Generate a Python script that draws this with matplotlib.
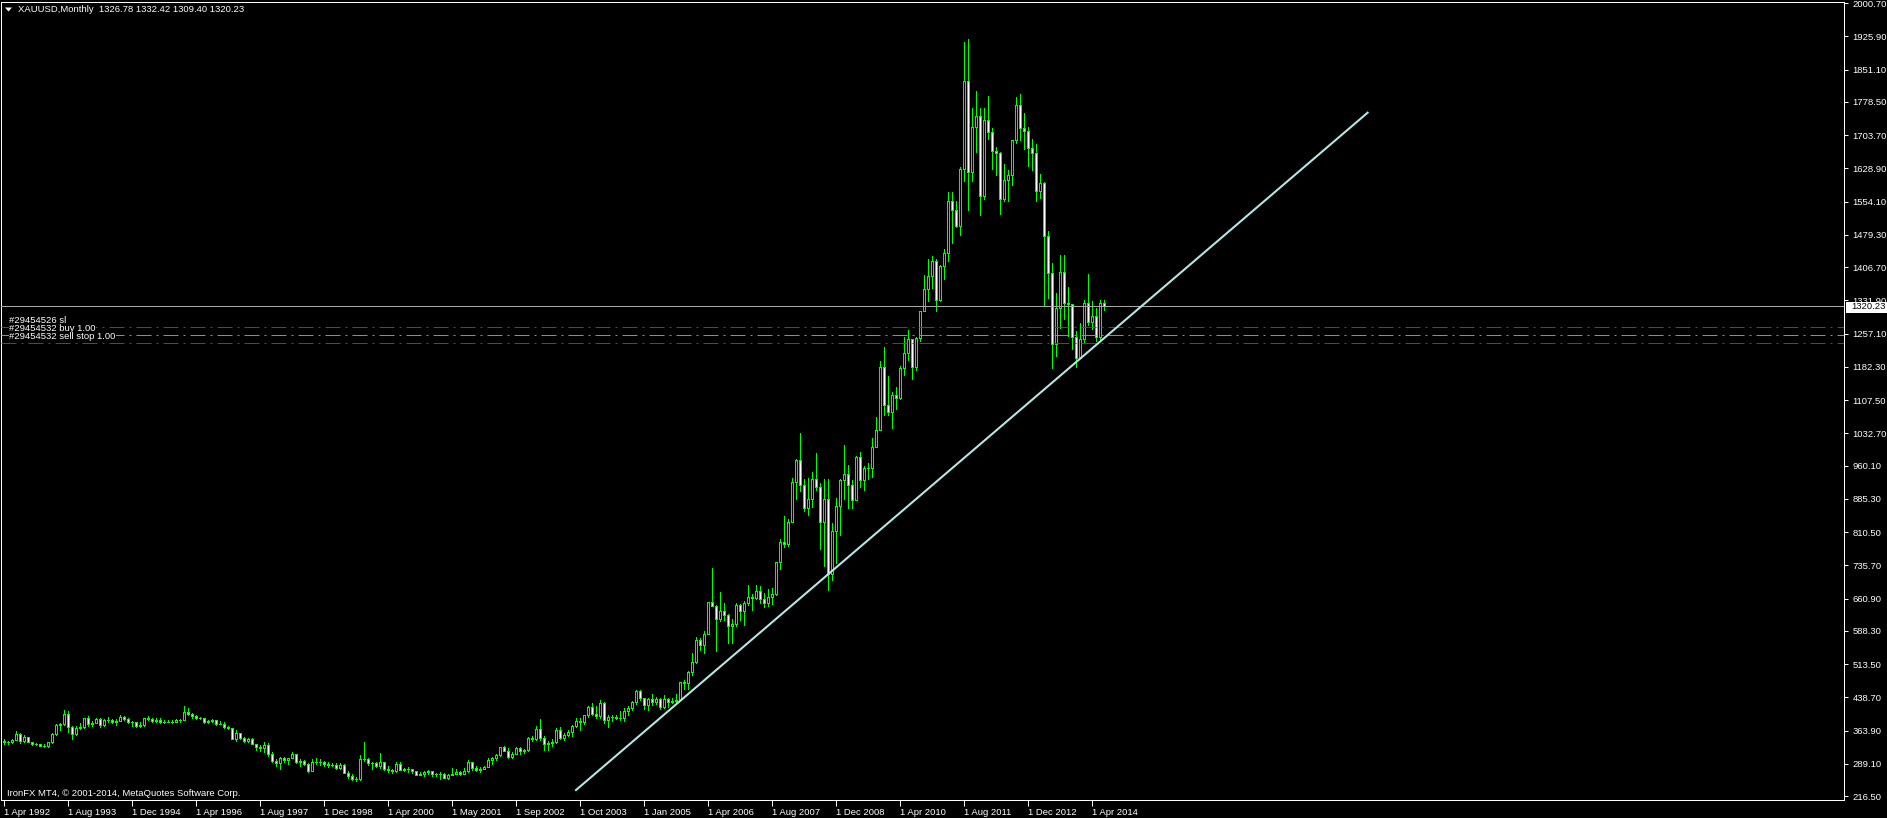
import matplotlib
matplotlib.use('Agg')
import matplotlib.pyplot as plt
from matplotlib.patches import Polygon, Rectangle
import numpy as np

plt.rcParams['font.family'] = ['Liberation Sans', 'DejaVu Sans']

# ---------------- data (monthly XAUUSD bars) ----------------
first_open = 341.0
current_open = 1326.78

bar_close = [
    # 1992 Apr-Dec
    337, 337, 343, 357, 340, 349, 339, 334, 333,
    # 1993
    330, 328, 337, 355, 377, 378, 401, 372, 355, 369, 371, 391,
    # 1994
    378, 381, 390, 376, 387, 388, 384, 386, 395, 389, 383, 383,
    # 1995
    375, 376, 392, 389, 385, 387, 383, 383, 384, 383, 387, 387,
    # 1996
    405, 400, 396, 393, 391, 382, 385, 387, 379, 379, 371, 369,
    # 1997
    345, 358, 348, 340, 345, 334, 326, 325, 332, 311, 296, 290,
    # 1998
    302, 297, 301, 310, 293, 296, 288, 273, 293, 292, 294, 288,
    # 1999
    287, 287, 280, 286, 268, 261, 255, 254, 299, 299, 291, 290,
    # 2000 Jan-Mar
    283, 293, 278,
    # Apr 2000 - Apr 2001 (with extra broker bars)
    275, 272, 288, 276, 277, 278, 273, 264, 266, 270, 273, 265, 266, 267, 258, 264,
    # May 2001 - Aug 2002
    267, 270, 266, 273, 293, 279, 275, 277, 282, 297, 302, 308, 326, 318, 304, 312,
    # Sep 2002 - Sep 2003
    324, 317, 319, 347, 345, 368, 347, 334, 336, 338, 364, 346, 354, 360, 375, 385,
    # Oct 2003 - Dec 2004
    384, 398, 416, 400, 397, 426, 387, 394, 395, 393, 391, 408, 415, 428, 453, 438,
    # Jan 2005 - Mar 2006
    422, 435, 428, 435, 416, 435, 429, 431, 433, 473, 470, 495, 517, 568, 556, 582,
    # Apr 2006 - Jul 2007
    654, 643, 614, 633, 623, 599, 604, 646, 632, 650, 665, 663, 679, 659, 650, 665,
    # Aug 2007 - Nov 2008
    672, 743, 789, 783, 834, 923, 972, 916, 864, 885, 930, 912, 833, 884, 717, 814,
    # Dec 2008 - Mar 2010
    869, 927, 942, 916, 883, 979, 927, 954, 955, 1001, 1040, 1182, 1096, 1081, 1118, 1113,
    # Apr 2010 - Jul 2011
    1179, 1213, 1244, 1181, 1248, 1307, 1357, 1386, 1421, 1332, 1410, 1439, 1556, 1536, 1500, 1628,
    # Aug 2011 - Nov 2012
    1826, 1620, 1722, 1746, 1566, 1737, 1711, 1669, 1664, 1561, 1604, 1614, 1692, 1772, 1719, 1713,
    # Dec 2012 - Mar 2014
    1675, 1663, 1578, 1596, 1476, 1393, 1234, 1314, 1396, 1327, 1323, 1250, 1202, 1244, 1326, 1284,
    # Apr 2014 - Jul 2014
    1296, 1250, 1327, 1320.23,
]

bar_high = [
    344, 341, 345, 362, 358, 354, 349, 339, 336,
    334, 333, 339, 358, 378, 380, 409, 408, 373, 373, 380, 393,
    396, 385, 392, 391, 390, 394, 390, 389, 398, 397, 393, 385,
    383, 382, 393, 396, 393, 393, 392, 388, 387, 388, 389, 390,
    418, 415, 404, 398, 395, 392, 387, 389, 387, 385, 384, 374,
    369, 366, 356, 349, 348, 346, 334, 331, 337, 336, 315, 299,
    305, 304, 303, 316, 311, 300, 297, 290, 300, 302, 300, 296,
    292, 291, 290, 291, 289, 272, 265, 260, 308, 338, 302, 294,
    293, 314, 294,
    285, 278, 293, 292, 280, 282, 278, 273, 270, 272, 275, 273, 269, 270, 269, 265,
    280, 277, 272, 279, 298, 294, 284, 281, 284, 303, 304, 311, 327, 330, 324, 315,
    326, 326, 323, 350, 352, 373, 389, 352, 341, 345, 370, 372, 359, 365, 377, 392,
    391, 399, 418, 426, 418, 432, 428, 398, 398, 398, 408, 414, 418, 430, 456, 456,
    429, 438, 446, 439, 437, 443, 438, 436, 447, 474, 478, 497, 538, 574, 573, 587,
    654, 730, 646, 675, 651, 627, 614, 650, 649, 655, 692, 672, 692, 690, 674, 683,
    684, 744, 795, 846, 841, 932, 975, 1033, 931, 932, 945, 988, 920, 930, 930, 830,
    888, 930, 1006, 962, 928, 982, 990, 959, 966, 1023, 1070, 1195, 1227, 1162, 1126, 1136,
    1184, 1249, 1265, 1244, 1250, 1308, 1388, 1424, 1432, 1424, 1412, 1448, 1575, 1577, 1555, 1632,
    1913, 1920, 1764, 1803, 1764, 1764, 1791, 1719, 1677, 1667, 1640, 1625, 1694, 1790, 1796, 1754,
    1723, 1695, 1685, 1617, 1599, 1488, 1417, 1348, 1434, 1434, 1362, 1320, 1262, 1280, 1332, 1392,
    1331, 1315, 1332, 1332.42,
]

bar_low = [
    334, 333, 336, 342, 336, 339, 337, 331, 331,
    328, 326, 326, 336, 353, 366, 376, 360, 345, 354, 368, 370,
    375, 374, 380, 371, 375, 383, 381, 377, 385, 387, 381, 375,
    372, 371, 374, 388, 383, 384, 380, 381, 382, 381, 382, 384,
    387, 398, 393, 389, 389, 380, 380, 384, 377, 378, 370, 367,
    344, 340, 344, 337, 338, 334, 320, 318, 316, 307, 292, 283,
    278, 292, 288, 301, 291, 285, 286, 271, 272, 288, 287, 284,
    282, 283, 277, 278, 268, 257, 252, 251, 253, 295, 286, 277,
    281, 280, 276,
    271, 268, 270, 275, 273, 270, 268, 263, 263, 262, 266, 261, 262, 255, 256, 255,
    263, 265, 263, 265, 271, 276, 272, 271, 277, 282, 288, 298, 306, 317, 303, 302,
    310, 312, 314, 318, 340, 343, 342, 320, 319, 330, 335, 344, 342, 352, 351, 371,
    365, 378, 395, 398, 393, 393, 381, 371, 386, 389, 387, 386, 399, 411, 424, 432,
    413, 411, 422, 423, 413, 414, 417, 425, 426, 432, 457, 457, 488, 516, 545, 538,
    581, 643, 543, 610, 612, 561, 560, 598, 613, 602, 646, 636, 660, 650, 642, 645,
    648, 668, 728, 778, 780, 835, 884, 902, 857, 850, 866, 905, 772, 735, 681, 703,
    742, 803, 886, 865, 865, 883, 913, 905, 930, 935, 1002, 1040, 1075, 1074, 1044, 1088,
    1111, 1164, 1197, 1155, 1175, 1241, 1316, 1330, 1360, 1309, 1330, 1381, 1421, 1462, 1496, 1478,
    1600, 1535, 1600, 1667, 1523, 1560, 1695, 1627, 1614, 1527, 1555, 1555, 1591, 1686, 1692, 1672,
    1635, 1626, 1555, 1562, 1321, 1338, 1180, 1207, 1270, 1291, 1251, 1222, 1182, 1202, 1238, 1277,
    1268, 1240, 1241, 1309.40,
]

time_labels = ['1 Apr 1992', '1 Aug 1993', '1 Dec 1994', '1 Apr 1996', '1 Aug 1997',
               '1 Dec 1998', '1 Apr 2000', '1 May 2001', '1 Sep 2002', '1 Oct 2003',
               '1 Jan 2005', '1 Apr 2006', '1 Aug 2007', '1 Dec 2008', '1 Apr 2010',
               '1 Aug 2011', '1 Dec 2012', '1 Apr 2014']
time_label_bars = [0, 16, 32, 48, 64, 80, 96, 112, 128, 144, 160, 176, 192, 208, 224, 240, 256, 272]

price_ticks = [2000.70, 1925.90, 1851.10, 1778.50, 1703.70, 1628.90, 1554.10, 1479.30,
               1406.70, 1331.90, 1257.10, 1182.30, 1107.50, 1032.70, 960.10, 885.30,
               810.50, 735.70, 660.90, 588.30, 513.50, 438.70, 363.90, 289.10, 216.50]

bid_price = 1320.23
order_prices = [1273.0, 1253.0, 1235.0]          # sl, buy, sell stop
order_colors = ['#FF0000', '#32CD32', '#FF0000']
order_labels = ['#29454526 sl', '#29454532 buy 1.00', '#29454532 sell stop 1.00']

trend_bars = [142.9, 341.2]
trend_prices = [228.4, 1755.9]

title_text = 'XAUUSD,Monthly  1326.78 1332.42 1309.40 1320.23'
copyright_text = 'IronFX MT4, \u00a9 2001-2014, MetaQuotes Software Corp.'

# ---------------- figure ----------------
W, H = 1887, 818
fig = plt.figure(figsize=(W / 100, H / 100), dpi=100, facecolor='black')

def fx(x):
    return x / W

def fy(y):
    return 1 - y / H

L, R, T, B = 1, 1844, 2, 800
ax = fig.add_axes([fx(L), fy(B), (R - L) / W, (B - T) / H])
ax.set_facecolor('black')

xmin = -(3.6 - L) / 4.0
xmax = xmin + (R - L) / 4.0
ax.set_xlim(xmin, xmax)
ax.set_ylim(207.5, 2003.5)

c = np.array(bar_close, dtype=float)
h = np.array(bar_high, dtype=float)
lo = np.array(bar_low, dtype=float)
o = np.concatenate([[first_open], c[:-1]])
o[-1] = current_open
h = np.maximum(h, np.maximum(o, c))
lo = np.minimum(lo, np.minimum(o, c))
idx = np.arange(len(c))

green = '#00FF00'
ax.vlines(idx, lo, h, colors=green, linewidth=0.72, antialiased=False, zorder=2)
bull = c >= o
body_bottom = np.minimum(o, c)
body_h = np.maximum(np.abs(c - o), 0.3)
face = np.where(bull, 'black', 'white')
ax.bar(idx, body_h, bottom=body_bottom, width=0.5, color=list(face),
       edgecolor=green, linewidth=0.72, zorder=3, antialiased=False)

# bid line
ax.axhline(bid_price, color='#A8A8A8', linewidth=0.72, zorder=4)
# order lines
for p, col in zip(order_prices, order_colors):
    ax.axhline(p, color=col, linewidth=0.72, dashes=(15, 5, 2, 5), zorder=4)

# trend line
ax.plot(trend_bars, trend_prices, color='#B4E6E6', linewidth=1.5,
        solid_capstyle='butt', zorder=5)

# axes styling
for sp in ax.spines.values():
    sp.set_color('white')
    sp.set_linewidth(0.72)

ax.yaxis.tick_right()
ax.set_yticks(price_ticks)
ax.set_yticklabels(['%.2f' % v for v in price_ticks])
ax.tick_params(axis='y', colors='white', length=3, width=0.72, pad=3,
               labelsize=6.8, labelcolor='white')

ax.set_xticks(time_label_bars)
ax.set_xticklabels(time_labels, ha='left')
ax.tick_params(axis='x', colors='white', length=4, width=0.72, pad=1.5,
               labelsize=6.8, labelcolor='white')
for lab in ax.get_xticklabels():
    lab.set_horizontalalignment('left')

# title & triangle
tri = Polygon([[fx(5), fy(7.5)], [fx(12), fy(7.5)], [fx(8.5), fy(11.5)]],
              closed=True, transform=fig.transFigure, facecolor='white',
              edgecolor='none')
fig.patches.append(tri)
fig.text(fx(18), fy(10), title_text, color='white', fontsize=6.8, va='center', ha='left')

# copyright
fig.text(fx(7), fy(793), copyright_text, color='white', fontsize=6.8, va='center', ha='left')

# order labels
for yc, txt in zip([320.5, 328.5, 336.5], order_labels):
    fig.text(fx(9), fy(yc), txt, color='white', fontsize=6.8, va='center', ha='left',
             bbox=dict(facecolor='black', edgecolor='none', pad=0.2))

# bid price box
box = Rectangle((fx(1846), fy(312.5)), (1887 - 1846) / W, 11 / H,
                transform=fig.transFigure, facecolor='white', edgecolor='none', zorder=10)
fig.patches.append(box)
fig.text(fx(1851), fy(306.5), '%.2f' % bid_price, color='black', fontsize=6.8,
         va='center', ha='left', zorder=11)

fig.savefig('out.png', dpi=100, facecolor='black')
